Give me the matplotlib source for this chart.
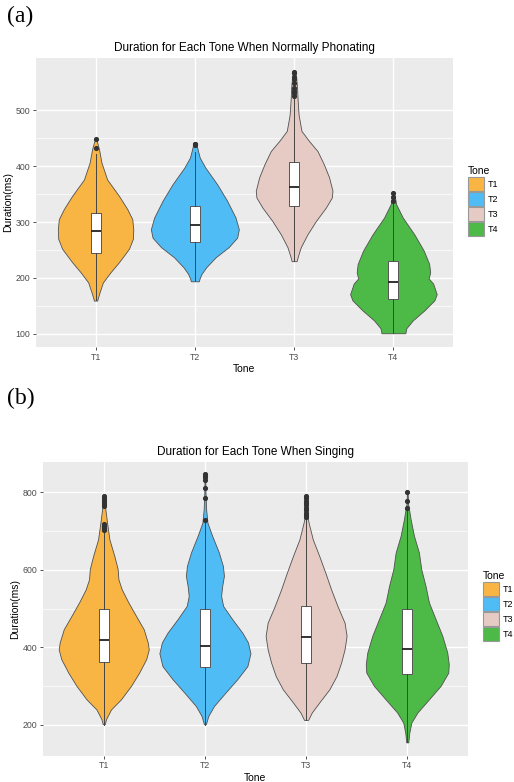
import matplotlib
matplotlib.use("Agg")
import matplotlib.pyplot as plt
from matplotlib.patches import Patch
import numpy as np

plt.rcParams['font.family'] = ['Liberation Sans', 'DejaVu Sans']

tones = ["T1", "T2", "T3", "T4"]
colors = ["#F8B544", "#4FBCF5", "#E5CBC4", "#4DB946"]

# ---------- panel (a): violin outlines (duration, half-width) ----------
a_t1_dur = [449, 440, 430, 406, 376, 347, 323, 305, 287, 270, 252, 228, 210, 192, 174, 162, 159.5]
a_t1_hw = [0.005, 0.02, 0.035, 0.06, 0.117, 0.235, 0.32, 0.37, 0.38, 0.376, 0.336, 0.235, 0.15, 0.074, 0.04, 0.02, 0.017]
a_t2_dur = [440, 436, 425, 415, 397, 367.5, 338, 308, 287, 272, 255, 237, 219, 207, 200, 194]
a_t2_hw = [0.005, 0.02, 0.035, 0.05, 0.107, 0.225, 0.325, 0.41, 0.443, 0.426, 0.34, 0.21, 0.114, 0.067, 0.05, 0.04]
a_t3_dur = [570, 560, 540, 522, 492, 463, 445, 427, 403, 380, 356, 344, 326, 302, 278, 255, 240, 230]
a_t3_hw = [0.005, 0.02, 0.03, 0.034, 0.045, 0.074, 0.15, 0.235, 0.30, 0.352, 0.386, 0.38, 0.32, 0.22, 0.134, 0.067, 0.04, 0.025]
a_t4_dur = [353, 345, 332, 308, 278, 249, 225, 210, 199, 190, 171, 160, 142, 124, 110, 101]
a_t4_hw = [0.005, 0.015, 0.027, 0.094, 0.21, 0.305, 0.36, 0.37, 0.355, 0.40, 0.436, 0.413, 0.312, 0.195, 0.13, 0.12]

# panel (a): box statistics
a_q1 = [245, 265, 328, 162]
a_med = [284, 294, 363, 193]
a_q3 = [316, 329, 407, 231]
a_wlo = [160, 194, 230, 101]
a_whi = [422, 425, 522, 333]
a_fl_t1 = [433, 449]
a_fl_t2 = [437, 439, 440]
a_fl_t3 = [525, 530, 534, 540, 548, 555, 560, 566, 569]
a_fl_t4 = [338, 344, 352]

# ---------- panel (b) ----------
b_t1_dur = [791, 757, 722, 679, 636, 602, 576, 550, 516, 481, 447, 413, 395, 370, 335, 301, 266, 240, 215, 202]
b_t1_hw = [0.005, 0.016, 0.033, 0.056, 0.105, 0.138, 0.145, 0.178, 0.244, 0.32, 0.395, 0.435, 0.445, 0.42, 0.35, 0.27, 0.17, 0.072, 0.023, 0.01]
b_t2_dur = [847, 800, 757, 722, 688, 645, 610, 585, 559, 533, 507, 473, 438, 413, 385, 352, 318, 284, 249, 223, 202]
b_t2_hw = [0.003, 0.006, 0.012, 0.025, 0.072, 0.138, 0.178, 0.188, 0.171, 0.16, 0.18, 0.27, 0.37, 0.425, 0.45, 0.42, 0.32, 0.205, 0.09, 0.033, 0.01]
b_t3_dur = [790, 750, 735, 722, 679, 636, 593, 550, 507, 464, 430, 395, 361, 326, 292, 258, 232, 213]
b_t3_hw = [0.003, 0.008, 0.015, 0.025, 0.066, 0.13, 0.19, 0.247, 0.31, 0.38, 0.40, 0.38, 0.346, 0.30, 0.23, 0.13, 0.056, 0.02]
b_t4_dur = [802, 770, 752, 731, 688, 645, 602, 559, 516, 473, 430, 387, 357, 335, 301, 266, 232, 206, 180, 155]
b_t4_hw = [0.003, 0.008, 0.02, 0.033, 0.066, 0.115, 0.138, 0.18, 0.214, 0.28, 0.346, 0.395, 0.41, 0.405, 0.33, 0.214, 0.1, 0.04, 0.02, 0.01]

b_q1 = [362, 350, 361, 331]
b_med = [420, 403, 427, 397]
b_q3 = [499, 499, 507, 499]
b_wlo = [201, 201, 213, 155]
b_whi = [700, 722, 733, 755]
b_fl_t1 = [703, 708, 713, 719, 765, 770, 775, 780, 785, 790]
b_fl_t2 = [729, 787, 811, 831, 839, 843, 847]
b_fl_t3 = [736, 742, 748, 755, 760, 767, 773, 779, 785, 790]
b_fl_t4 = [759, 779, 802]


def draw_panel(ax, durs, hws, q1, med, q3, wlo, whi, fliers, title, yticks, ylim):
    ax.set_facecolor("#EBEBEB")
    for s in ax.spines.values():
        s.set_visible(False)
    # grid
    for yt in yticks:
        ax.axhline(yt, color="white", lw=1.0, zorder=0)
    for i in range(len(yticks) - 1):
        ax.axhline((yticks[i] + yticks[i + 1]) / 2, color="white", lw=0.5, zorder=0)
    pos = np.arange(1, 5)
    for p in pos:
        ax.axvline(p, color="white", lw=1.0, zorder=0)
    for i in range(4):
        d = np.array(durs[i])
        h = np.array(hws[i])
        ax.fill_betweenx(d, pos[i] - h, pos[i] + h, facecolor=colors[i],
                         edgecolor="#505050", lw=0.6, zorder=2)
    stats = []
    for i in range(4):
        stats.append(dict(med=med[i], q1=q1[i], q3=q3[i], whislo=wlo[i],
                          whishi=whi[i], fliers=fliers[i], label=tones[i]))
    ax.bxp(stats, positions=pos, widths=0.1, patch_artist=True, showcaps=False,
           boxprops=dict(facecolor="white", edgecolor="#555555", lw=0.7),
           whiskerprops=dict(color="#444444", lw=0.7),
           medianprops=dict(color="#222222", lw=1.3),
           flierprops=dict(marker="o", markersize=2.7, markerfacecolor="#333333",
                           markeredgecolor="#333333"),
           zorder=3)
    ax.set_xlim(0.4, 4.6)
    ax.set_ylim(*ylim)
    ax.set_xticks(pos)
    ax.set_xticklabels(tones)
    ax.set_yticks(yticks)
    ax.set_yticklabels([str(v) for v in yticks])
    ax.tick_params(axis="both", colors="#333333", labelcolor="#4D4D4D",
                   labelsize=6.3, length=2.5, width=0.6, pad=1.5)
    ax.set_xlabel("Tone", fontsize=7.5, color="black", labelpad=2)
    ax.set_ylabel("Duration(ms)", fontsize=7.5, color="black", labelpad=2)
    ax.set_title(title, fontsize=8.5, color="black", pad=5)


fig = plt.figure(figsize=(5.14, 7.82), dpi=100)
fig.patch.set_facecolor("white")

ax1 = fig.add_axes([0.070, 0.5563, 0.8113, 0.3696])
draw_panel(ax1, [a_t1_dur, a_t2_dur, a_t3_dur, a_t4_dur],
           [a_t1_hw, a_t2_hw, a_t3_hw, a_t4_hw],
           a_q1, a_med, a_q3, a_wlo, a_whi,
           [a_fl_t1, a_fl_t2, a_fl_t3, a_fl_t4],
           "Duration for Each Tone When Normally Phonating",
           [100, 200, 300, 400, 500], (76.5, 593.5))

ax2 = fig.add_axes([0.0837, 0.0336, 0.8268, 0.376])
draw_panel(ax2, [b_t1_dur, b_t2_dur, b_t3_dur, b_t4_dur],
           [b_t1_hw, b_t2_hw, b_t3_hw, b_t4_hw],
           b_q1, b_med, b_q3, b_wlo, b_whi,
           [b_fl_t1, b_fl_t2, b_fl_t3, b_fl_t4],
           "Duration for Each Tone When Singing",
           [200, 400, 600, 800], (120.5, 879.5))

handles = [Patch(facecolor=c, edgecolor="#999999", lw=0.8) for c in colors]
leg_kw = dict(title="Tone", loc="upper left", frameon=False, fontsize=6.5,
              title_fontsize=7.5, handlelength=1.75, handleheight=2.0,
              handletextpad=0.45, labelspacing=0.1, borderpad=0.2)
leg1 = fig.legend(handles, tones, bbox_to_anchor=(462 / 514, 1 - 160 / 782), **leg_kw)
leg1._legend_box.align = "left"
leg2 = fig.legend(handles, tones, bbox_to_anchor=(477 / 514, 1 - 565 / 782), **leg_kw)
leg2._legend_box.align = "left"

fig.text(7 / 514, 1 - 16 / 782, "(a)", family="Liberation Serif", fontsize=17,
         va="center", ha="left")
fig.text(7 / 514, 1 - 398 / 782, "(b)", family="Liberation Serif", fontsize=17,
         va="center", ha="left")

fig.savefig("out.png", dpi=100)
